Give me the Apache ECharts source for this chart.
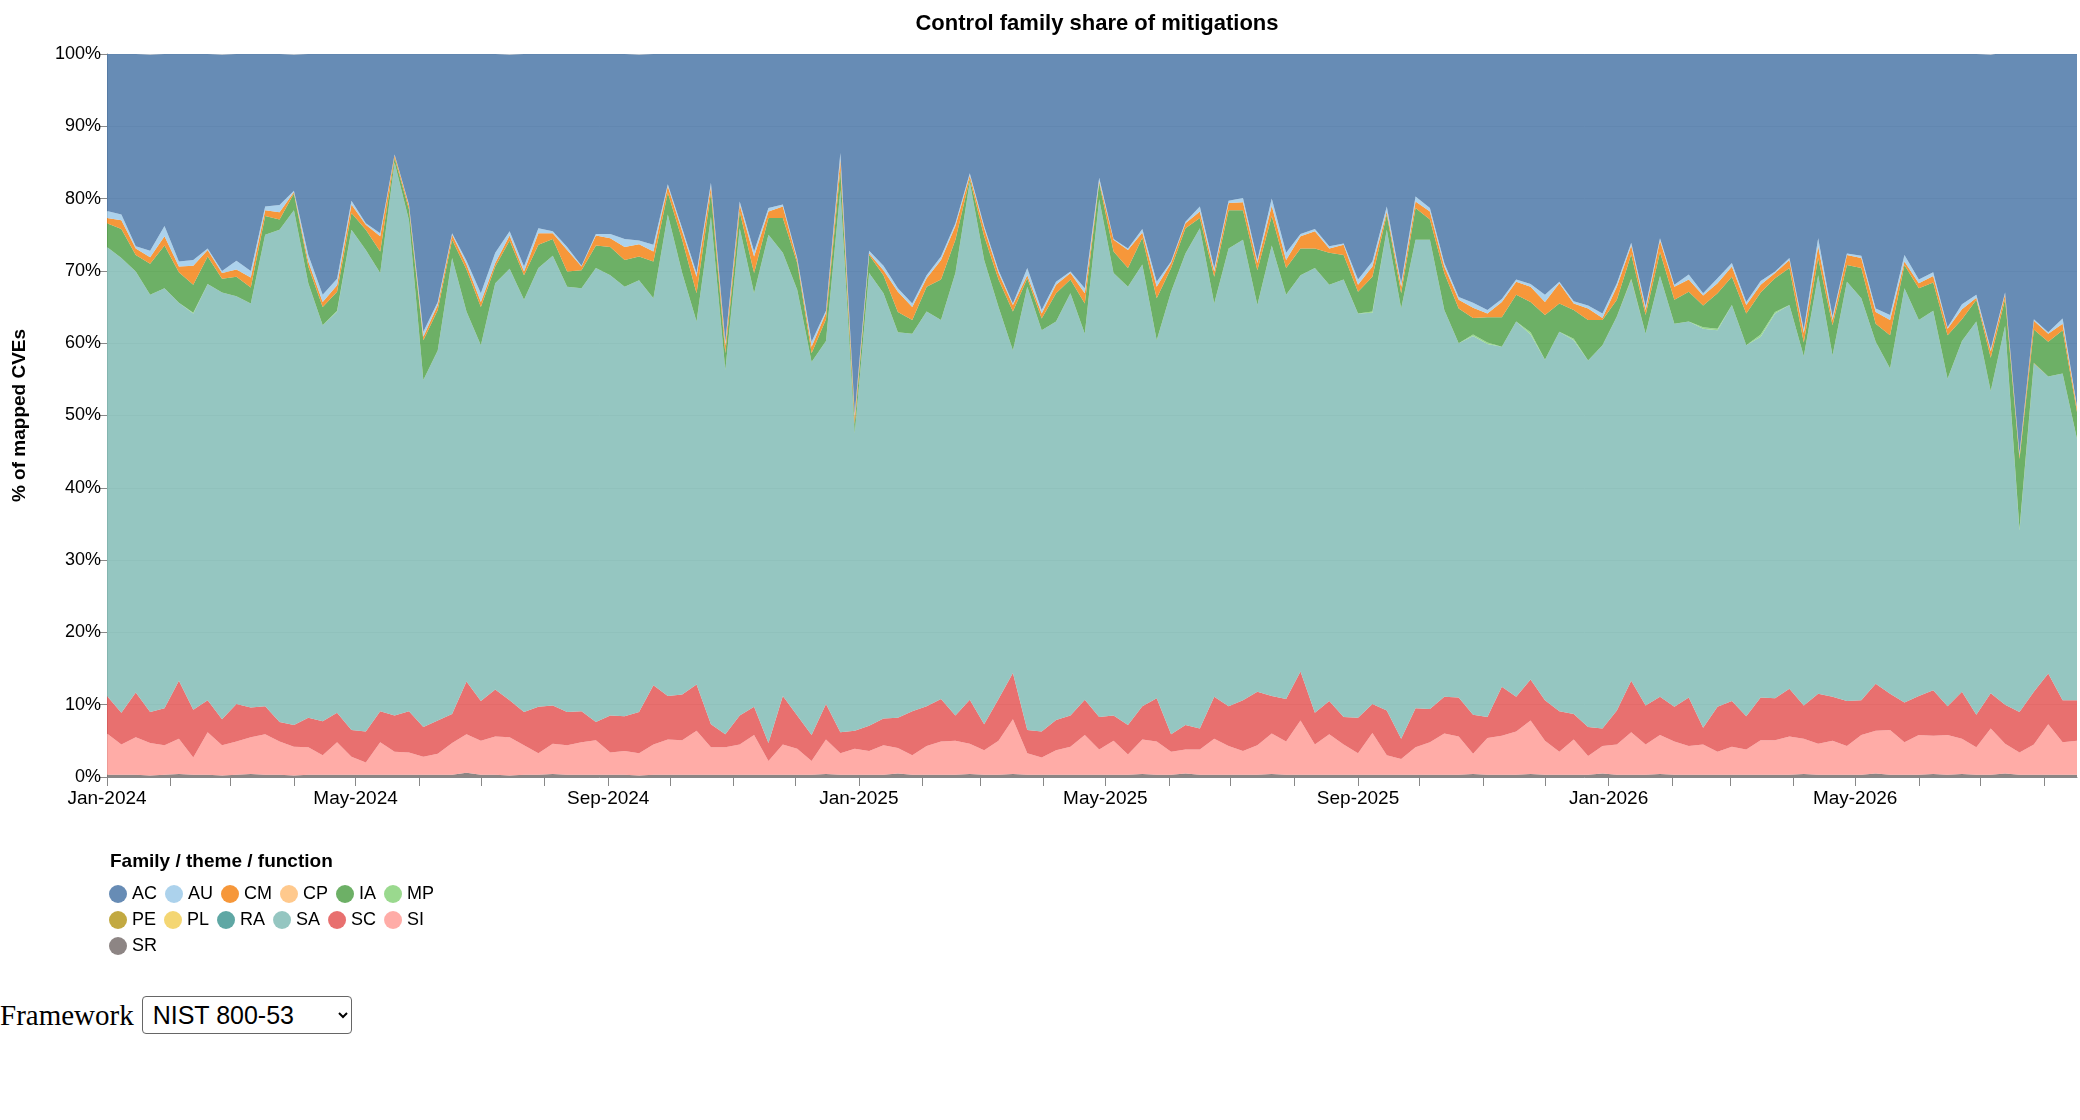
<!DOCTYPE html>
<html>
<head>
<meta charset="utf-8">
<script src="https://cdn.jsdelivr.net/npm/echarts@6/dist/echarts.min.js"></script>
<style>
  body { margin: 0; background: #fff; }
  #chart { width: 2080px; height: 985px; }
  .ctl { height: 60px; display: flex; align-items: center; font-family: "Liberation Serif", serif; font-size: 29px; }
  .ctl select { margin-left: 8px; width: 210px; height: 38px; font-family: "Liberation Sans", sans-serif; font-size: 25px; border: 1.5px solid #666; border-radius: 4px; background: #fff; padding-left: 6px; }
</style>
</head>
<body>
<div id="chart"></div>
<div class="ctl">Framework<select><option>NIST 800-53</option></select></div>
<script>
// weekly buckets, first one starting 2024-01-01
var firstWeek = new Date(2024, 0, 1);
var weekCount = 138;

// shares in % of mapped CVEs, bottom of the stack first
var SR = [0.3,0.3,0.3,0.2,0.3,0.4,0.3,0.3,0.2,0.3,0.4,0.3,0.3,0.2,0.3,0.3,0.3,0.3,0.3,0.3,0.3,0.3,0.3,
          0.3,0.3,0.6,0.3,0.3,0.2,0.3,0.3,0.4,0.3,0.3,0.3,0.3,0.3,0.2,0.3,0.3,0.3,0.3,0.3,0.3,0.3,0.3,
          0.3,0.3,0.3,0.3,0.4,0.3,0.3,0.3,0.3,0.5,0.3,0.3,0.3,0.3,0.4,0.3,0.3,0.4,0.3,0.3,0.3,0.3,0.3,
          0.3,0.3,0.3,0.4,0.3,0.3,0.5,0.3,0.3,0.3,0.3,0.3,0.4,0.3,0.3,0.3,0.3,0.3,0.3,0.3,0.3,0.3,0.3,
          0.3,0.3,0.3,0.4,0.3,0.3,0.3,0.4,0.3,0.3,0.3,0.3,0.5,0.3,0.3,0.3,0.4,0.3,0.3,0.3,0.3,0.3,0.3,
          0.3,0.3,0.3,0.4,0.3,0.3,0.3,0.3,0.5,0.3,0.3,0.3,0.4,0.3,0.4,0.3,0.3,0.5,0.3,0.3,0.3,0.3,0.3];
var SI = [5.7,4.2,5.2,4.5,4.1,4.9,2.4,5.9,4.2,4.6,5.1,5.6,4.6,4.0,3.8,2.7,4.5,2.5,1.7,4.5,3.2,3.1,2.5,2.9,4.4,5.3,4.7,5.3,5.3,4.1,3.0,4.2,4.1,4.5,4.8,3.1,3.3,3.1,4.2,4.9,4.8,6.1,3.8,3.8,4.2,5.5,1.9,
          4.2,3.6,1.9,4.8,3.0,3.6,3.3,4.1,3.5,2.7,4.0,4.6,4.7,4.2,3.4,4.7,7.6,3.0,2.4,3.4,3.9,5.5,3.5,4.7,2.8,4.8,4.6,3.2,3.3,3.5,5.0,4.0,3.3,4.1,5.6,4.6,7.5,4.2,5.6,4.2,3.0,5.8,2.7,2.2,3.8,4.5,
          5.7,5.3,2.8,5.1,5.4,6.0,7.4,4.7,3.2,4.9,2.6,3.8,4.2,5.9,4.2,5.4,4.6,4.0,4.2,3.2,3.9,3.5,4.8,4.8,5.3,4.9,4.3,4.7,4.0,5.5,5.9,6.2,4.5,5.5,5.3,5.5,4.9,3.8,6.4,4.1,3.1,4.2,7.0,4.5,4.7];
var SC = [5.2,4.4,6.2,4.3,5.1,8.0,6.6,4.4,3.6,5.2,4.1,3.9,2.7,3.0,4.1,4.7,4.1,3.7,4.3,4.3,5.0,5.7,4.1,4.6,4.0,7.3,5.5,6.5,5.1,4.6,6.4,5.3,4.6,4.3,2.5,5.1,4.8,5.7,8.2,6.0,6.3,6.4,3.2,1.8,4.0,3.9,2.5,
          6.7,4.6,3.6,4.9,2.9,2.5,3.5,3.7,4.2,6.1,5.5,5.9,3.5,6.1,3.6,5.8,6.4,3.2,3.6,4.2,4.3,4.9,4.5,3.5,4.1,4.6,6.0,2.4,3.4,2.9,5.8,5.5,7.0,7.4,5.2,5.9,6.8,4.4,4.6,3.8,4.9,4.0,6.2,2.8,5.4,4.6,
          5.1,5.4,5.4,2.9,6.8,4.8,5.7,5.6,5.6,3.5,4.0,2.4,4.7,7.1,5.4,5.3,4.8,6.7,2.3,6.2,6.3,4.6,5.9,5.8,6.6,4.6,6.9,6.1,6.2,4.8,6.5,5.0,5.5,5.4,6.3,4.0,6.5,4.5,4.9,5.4,5.6,7.3,7.0,5.8,5.6];
var SA = [62.1,62.9,58.2,57.7,58.1,52.3,54.8,57.6,59.0,56.4,55.9,65.2,68.1,71.2,60.1,54.8,55.5,69.2,66.6,60.6,76.5,67.9,48.0,51.2,63.1,51.2,49.2,56.2,59.7,57.0,60.7,62.2,58.8,58.5,62.8,60.9,59.4,59.7,53.5,66.6,58.3,50.2,70.2,50.4,67.4,57.2,70.3,
          61.3,58.9,51.6,50.2,75.0,41.1,62.6,58.8,53.3,52.2,54.6,52.4,61.2,71.6,64.2,54.2,44.6,61.3,55.5,55.1,58.4,50.6,71.6,61.2,60.6,61.1,49.5,61.2,65.2,69.2,54.4,63.3,63.7,53.5,62.3,55.9,54.8,61.5,57.6,60.5,55.9,54.1,66.5,59.5,64.8,64.9,
          53.5,49.0,52.4,51.6,47.0,51.9,47.7,47.1,52.5,51.7,50.7,53.0,54.5,55.5,51.4,58.2,53.0,52.0,55.2,52.1,54.8,51.3,49.9,53.2,53.1,48.3,57.9,47.2,58.0,55.6,47.3,45.0,57.3,52.0,52.5,45.3,48.5,54.4,41.8,52.4,25.1,45.4,41.1,45.2,36.2];
var RA = [0,0,0,0,0,0,0,0,0,0,0,0,0,0,0,0,0,0,0,0,0,0,0,
          0,0,0,0,0,0,0,0,0,0,0,0,0,0,0,0,0,0,0,0,0,0,0,
          0,0,0,0,0,0,0,0,0,0,0,0,0,0,0,0,0,0,0,0,0,0,0,
          0,0,0,0,0,0,0,0,0,0,0,0,0,0,0,0,0,0,0,0,0,0,0,
          0,0,0,0,0,0,0,0,0,0,0,0,0,0,0,0,0,0,0,0,0,0,0,
          0,0,0,0,0,0,0,0,0,0,0,0,0,0,0,0,0,0,0,0,0,0,0];
var PL = [0,0,0,0,0,0,0,0,0,0,0,0,0,0,0,0,0,0,0,0,0,0,0,
          0,0,0,0,0,0,0,0,0,0,0,0,0,0,0,0,0,0,0,0,0,0,0,
          0,0,0,0,0,0,0,0,0,0,0,0,0,0,0,0,0,0,0,0,0,0,0,
          0,0,0,0,0,0,0,0,0,0,0,0,0,0,0,0,0,0,0,0,0,0,0,
          0,0,0,0,0,0,0,0,0,0,0,0,0,0,0,0,0,0,0,0,0,0,0,
          0,0,0,0,0,0,0,0,0,0,0,0,0,0,0,0,0,0,0,0,0,0,0];
var PE = [0,0,0,0,0,0,0,0,0,0,0,0,0,0,0,0,0,0,0,0,0,0,0,
          0,0,0,0,0,0,0,0,0,0,0,0,0,0,0,0,0,0,0,0,0,0,0,
          0,0,0,0,0,0,0,0,0,0,0,0,0,0,0,0,0,0,0,0,0,0,0,
          0,0,0,0,0,0,0,0,0,0,0,0,0,0,0,0,0,0,0,0,0,0,0,
          0,0,0,0,0,0,0,0,0,0,0,0,0,0,0.1,0,0,0,0,0,0,0,0,
          0,0,0,0,0,0,0,0,0,0,0,0,0,0,0,0,0,0,0,0.1,0,0,0];
var MP = [0,0,0,0,0,0,0.1,0,0,0,0,0,0,0,0,0,0.1,0,0,0,0,0,0,
          0,0,0,0,0,0,0,0,0,0,0,0,0,0,0,0,0,0,0,0,0,0,0,
          0,0,0,0,0,0,0,0,0,0,0,0,0,0,0,0,0,0,0,0,0,0,0,
          0,0,0,0,0,0,0,0,0,0,0,0,0,0,0,0,0,0,0,0.2,0,0,0,
          0,0,0,0.2,0.2,0,0,0.3,0,0,0.2,0,0,0,0,0,0,0,0,0.2,0.2,0,0,
          0.3,0.2,0,0,0,0,0,0,0,0,0,0,0,0,0,0,0,0,0.2,0,0,0,0];
var IA = [3.3,4.0,2.3,4.3,5.9,4.2,3.9,3.8,1.9,2.7,2.2,2.6,1.4,2.3,2.3,2.5,2.6,2.3,2.8,3.0,0.6,1.5,5.5,5.6,2.5,5.8,5.3,2.3,3.9,3.4,3.2,2.3,2.1,2.5,3.1,3.9,3.7,3.3,5.1,3.0,4.6,3.9,3.3,2.3,2.3,2.8,2.3,
          4.8,3.7,1.2,3.0,2.8,1.3,2.5,2.5,2.8,1.9,3.4,5.6,4.6,0.4,3.3,3.8,5.4,1.2,1.6,3.9,1.9,4.2,2.3,3.0,2.6,3.7,5.8,3.3,3.5,1.4,3.7,5.3,4.1,4.8,4.1,3.7,3.7,2.7,4.4,3.4,3.0,4.8,2.1,2.1,4.4,2.8,
          5.1,4.8,2.3,3.5,4.1,3.7,4.2,6.2,3.9,4.0,5.6,3.5,2.3,3.4,2.6,3.3,3.3,4.1,3.0,4.9,3.9,4.4,5.8,4.7,5.1,1.9,2.4,4.2,2.3,4.2,2.5,4.6,3.2,4.4,3.9,6.0,3.0,3.0,4.6,3.7,9.7,4.6,4.8,6.0,3.7];
var CP = [0,0,0,0,0,0,0,0,0,0,0,0,0,0,0,0,0,0,0,0,0,0,0,
          0,0,0,0,0,0,0,0,0,0,0,0,0,0,0,0,0,0,0,0,0,0,0,
          0,0,0,0,0,0,0,0,0,0,0,0,0,0,0,0,0,0,0,0,0,0,0,
          0,0,0,0,0,0,0,0,0,0,0,0,0,0,0,0,0,0,0,0,0,0,0,
          0,0,0,0,0,0,0,0,0,0,0,0,0,0,0,0,0,0,0,0,0,0,0,
          0,0,0,0,0,0,0,0,0,0,0,0,0,0,0,0,0,0,0,0,0,0,0];
var CM = [0.7,1.2,0.9,0.9,1.3,0.8,2.6,0.9,0.8,1.0,1.4,0.8,1.0,0.2,0.7,0.7,0.9,1.2,0.7,2.1,0.4,0.5,0.5,0.7,0.7,0.7,0.7,0.5,0.7,0.5,1.6,0.8,3.0,0.5,1.4,1.2,1.8,1.7,1.4,0.9,1.2,2.3,0.9,1.1,1.0,2.3,0.9,
          1.6,0.4,0.9,0.9,1.4,1.0,0.2,0.7,2.8,1.8,1.2,2.7,1.9,0.5,1.1,0.9,0.9,0.4,0.7,1.2,0.9,1.4,0.2,1.6,2.5,0.7,1.6,0.7,0.7,0.9,0.7,1.0,1.1,1.0,1.4,1.1,1.7,2.4,0.6,1.4,1.0,1.4,0.4,0.9,0.9,1.1,
          0.9,1.2,1.4,0.5,2.1,1.8,2.1,1.8,2.8,0.9,1.6,0.3,1.8,1.2,0.7,1.6,1.8,1.7,1.4,1.4,1.4,1.2,1.1,0.7,1.1,1.3,1.6,0.7,1.4,1.4,1.6,2.1,0.5,0.7,0.9,0.9,1.4,0.3,0.9,0.7,0.4,1.2,1.1,0.9,0.5];
var AU = [1.0,0.8,0.3,0.9,1.4,0.7,0.8,0.2,0.3,1.2,0.9,0.5,1.0,0.2,0.9,1.0,0.9,0.5,0.2,0.4,0.1,0.2,0.7,0.4,0.2,0.5,1.2,1.4,0.6,0.7,0.7,0.3,0.4,0.1,0.2,0.6,1.1,0.5,0.9,0.3,0.4,0.5,0.5,0.5,0.4,0.7,0.5,
          0.3,0.3,0.7,0.3,0.9,0.4,0.4,0.6,0.5,0.5,0.4,0.5,0.4,0.3,0.3,0.4,0.2,1.0,0.5,0.4,0.2,0.7,0.5,0.1,0.2,0.5,0.7,0.2,0.2,0.7,0.5,0.3,0.6,0.4,1.0,1.0,0.3,0.3,0.3,0.2,0.7,0.7,0.7,0.5,0.7,0.5,
          0.5,0.4,0.7,0.5,0.4,0.3,0.4,1.0,0.2,0.3,0.4,0.6,0.5,0.4,0.5,0.3,0.3,0.7,0.3,0.7,0.5,0.4,0.5,0.2,0.3,0.5,1.1,0.5,0.2,0.3,0.5,0.7,0.9,0.5,0.5,0.2,0.7,0.4,0.3,0.2,0.3,0.2,0.2,0.7,0.2];
var AC = [21.7,22.2,26.6,27.1,23.8,28.8,28.6,26.9,29.9,28.6,30.1,21.1,20.9,18.8,27.8,33.3,31.2,20.3,23.4,24.8,13.9,20.8,38.4,34.3,24.8,28.9,33.1,27.5,24.4,29.4,24.1,24.6,26.7,29.3,24.9,24.9,25.6,25.7,26.4,18.0,24.1,30.3,17.8,39.8,20.4,27.3,21.3,
          20.8,28.2,39.8,35.6,13.7,49.8,27.2,29.3,32.6,34.5,30.6,28.0,23.4,16.6,23.8,29.9,34.5,29.6,35.4,31.5,30.1,32.4,17.1,25.6,26.9,24.3,31.5,28.7,23.4,21.1,29.6,20.3,19.9,28.5,20.1,27.5,24.9,24.2,26.6,26.2,31.2,28.9,21.1,31.7,19.7,21.3,
          28.9,33.6,34.7,35.6,33.9,31.2,32.2,33.3,31.5,34.4,34.8,36.1,31.7,26.2,34.9,25.6,31.9,30.5,33.3,31.2,28.9,34.3,31.7,30.3,28.2,38.2,25.5,36.3,27.6,27.9,35.4,36.1,27.8,31.2,30.3,37.8,34.7,33.3,40.7,33.2,55.5,36.8,38.5,36.6,48.8];

var families = ['AC','AU','CM','CP','IA','MP','PE','PL','RA','SA','SC','SI','SR'];
var familyValues = {AC:AC, AU:AU, CM:CM, CP:CP, IA:IA, MP:MP, PE:PE, PL:PL, RA:RA, SA:SA, SC:SC, SI:SI, SR:SR};
var familyColors = {AC:'#4c78a8', AU:'#9ecae9', CM:'#f58518', CP:'#ffbf79', IA:'#54a24b', MP:'#88d27a',
                    PE:'#b79a20', PL:'#f2cf5b', RA:'#439894', SA:'#83bcb6', SC:'#e45756', SI:'#ff9d98', SR:'#79706e'};
var monthNames = ['Jan','Feb','Mar','Apr','May','Jun','Jul','Aug','Sep','Oct','Nov','Dec'];

var weeks = [];
for (var i = 0; i < weekCount; i++) {
    weeks.push(new Date(firstWeek.getFullYear(), firstWeek.getMonth(), firstWeek.getDate() + 7 * i).getTime());
}

var font = 'Liberation Sans, Arial, sans-serif';
// stack bottom-up: SR first, AC on top
var series = families.slice().reverse().map(function (f) {
    return {
        name: f,
        type: 'line',
        stack: 'share',
        symbol: 'none',
        lineStyle: { width: 0 },
        itemStyle: { color: familyColors[f], opacity: 0.85 },
        areaStyle: { color: familyColors[f], opacity: 0.85 },
        data: familyValues[f].map(function (v, j) { return [weeks[j], v]; })
    };
});

var myChart = echarts.init(document.getElementById('chart'));
myChart.setOption({
    animation: false,
    title: [{
        text: 'Control family share of mitigations',
        left: 1092, top: 8, textAlign: 'center',
        textStyle: { fontFamily: font, fontSize: 22, fontWeight: 'bold', color: '#000' }
    }, {
        text: 'Family / theme / function',
        left: 105, top: 847,
        textStyle: { fontFamily: font, fontSize: 19, fontWeight: 'bold', color: '#000' }
    }],
    legend: {
        data: families,
        left: 104, top: 880, width: 340,
        icon: 'circle', itemWidth: 18, itemHeight: 18, itemGap: 8,
        selectedMode: false,
        textStyle: { fontFamily: font, fontSize: 18, color: '#000', width: 50 }
    },
    grid: { left: 107, right: 3, top: 54, bottom: 208 },
    xAxis: {
        type: 'time',
        min: weeks[0], max: weeks[weeks.length - 1],
        minInterval: 28 * 86400000, maxInterval: 31 * 86400000,
        axisLine: { lineStyle: { color: '#888' } },
        axisTick: { show: true, length: 9, lineStyle: { color: '#888' } },
        splitLine: { show: false },
        axisLabel: {
            fontFamily: font, fontSize: 19, color: '#000', margin: 12,
            alignMinLabel: 'left', hideOverlap: false,
            formatter: function (v) {
                var d = new Date(v);
                if (d.getDate() !== 1 || d.getMonth() % 4 !== 0) return '';
                return monthNames[d.getMonth()] + '-' + d.getFullYear();
            }
        }
    },
    yAxis: {
        type: 'value', min: 0, max: 100, interval: 10,
        name: '% of mapped CVEs', nameLocation: 'middle', nameGap: 78,
        nameTextStyle: { fontFamily: font, fontSize: 19, fontWeight: 'bold', color: '#000' },
        axisLine: { show: true, lineStyle: { color: '#888' } },
        axisTick: { show: true, length: 7, lineStyle: { color: '#888' } },
        splitLine: { lineStyle: { color: '#ddd' } },
        axisLabel: { fontFamily: font, fontSize: 18, color: '#000', margin: 6, formatter: '{value}%' }
    },
    series: series
});
</script>
</body>
</html>
